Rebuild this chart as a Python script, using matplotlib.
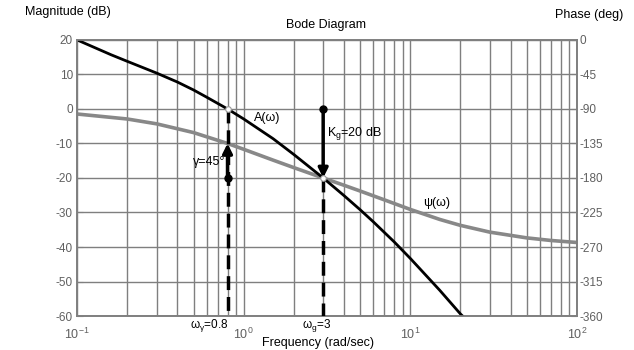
import matplotlib
matplotlib.use("Agg")
import matplotlib.pyplot as plt
from matplotlib.ticker import LogLocator, NullFormatter, FixedLocator

plt.rcParams['font.family'] = ['Liberation Sans', 'DejaVu Sans']
plt.rcParams['mathtext.fontset'] = 'custom'
plt.rcParams['mathtext.rm'] = 'Liberation Sans'
plt.rcParams['mathtext.it'] = 'Liberation Sans'
plt.rcParams['axes.unicode_minus'] = False

# magnitude curve A(w)
w_mag = [0.1, 0.16, 0.2, 0.3, 0.4, 0.5, 0.6, 0.8, 1.0, 1.5, 2, 3, 4, 5, 6, 8, 10, 15, 20, 20.6]
mag_db = [20, 15.7, 13.8, 10.4, 7.8, 5.5, 3.4, 0, -2.9, -8.6, -13.2, -20, -25.1, -29.2, -32.7,
          -38.5, -43.3, -52.5, -59.4, -60]

# phase curve psi(w)
w_ph = [0.1, 0.2, 0.3, 0.5, 0.8, 1, 1.5, 2, 3, 4, 5, 7, 10, 15, 20, 30, 50, 70, 100]
phase_deg = [-96.6, -103.1, -109.4, -120.8, -135, -142.6, -156.7, -166.5, -180, -189.5, -197,
             -208.6, -221, -234, -241.8, -250.6, -258.1, -261.5, -264.1]

mag_ticks = [-60, -50, -40, -30, -20, -10, 0, 10, 20]
phase_ticks = [-360, -315, -270, -225, -180, -135, -90, -45, 0]
decades = [0.1, 1, 10, 100]
decade_labels = ['$10^{-1}$', '$10^{0}$', '$10^{1}$', '$10^{2}$']

w_gamma = 0.8   # phase crossover / margin
w_g = 3
gamma_db = [-20, -10]   # arrow for gamma=45 deg
kg_db = [0, -20]        # arrow for Kg=20 dB

gridc = '#7f7f7f'
tickc = '#606060'

fig = plt.figure(figsize=(6.34, 3.5), dpi=100)
ax2 = fig.add_axes([0.1215, 0.097, 0.7885, 0.789])
ax = ax2.twinx()
ax.set_zorder(ax2.get_zorder() + 1)
ax.patch.set_visible(False)

# phase axis (right) and the grid underneath
ax2.set_xscale('log')
ax2.set_xlim(0.1, 100)
ax2.set_ylim(-360, 0)
ax2.yaxis.tick_right()
ax2.yaxis.set_major_locator(FixedLocator(phase_ticks))
ax2.set_xticks(decades)
ax2.set_xticklabels(decade_labels)
ax2.xaxis.set_minor_locator(LogLocator(base=10, subs=range(2, 10)))
ax2.xaxis.set_minor_formatter(NullFormatter())
ax2.grid(True, which='both', axis='x', color=gridc, lw=1)
ax2.grid(True, which='major', axis='y', color=gridc, lw=1)
ax2.plot(w_ph, phase_deg, color='#888888', lw=2.6, solid_capstyle='butt')
ax2.tick_params(axis='y', which='both', right=True, left=False, labelright=True, labelleft=False,
                labelsize=8.5, labelcolor=tickc, color=gridc, length=4, pad=2, direction='in')
ax2.tick_params(axis='x', which='both', length=0, labelsize=9, labelcolor=tickc, pad=8)

# magnitude axis (left) on top
ax.set_ylim(-60, 20)
ax.yaxis.tick_left()
ax.set_yticks(mag_ticks)
ax.tick_params(axis='y', right=False, left=True, labelleft=True, labelright=False,
               labelsize=8.5, labelcolor=tickc, color=gridc, length=4, pad=3, direction='in')
for a in (ax, ax2):
    for s in a.spines.values():
        s.set_color(gridc)
        s.set_linewidth(1.2)

ax.plot(w_mag, mag_db, color='black', lw=2.0)

# dashed drop lines
ax.plot([w_gamma, w_gamma], [0, -60], color='black', lw=2.5, dashes=(4, 2), zorder=4)
ax.plot([w_g, w_g], [kg_db[1], -60], color='black', lw=2.5, dashes=(4, 2), zorder=4)

# gamma arrow
ax.annotate('', xy=(w_gamma, gamma_db[1]), xytext=(w_gamma, gamma_db[0]),
            arrowprops=dict(arrowstyle='-|>', lw=2.5, color='black', mutation_scale=14,
                            shrinkA=0, shrinkB=0), zorder=5)
ax.plot([w_gamma], [gamma_db[0]], 'o', color='black', ms=5, zorder=6)
# Kg arrow
ax.annotate('', xy=(w_g, kg_db[1]), xytext=(w_g, kg_db[0]),
            arrowprops=dict(arrowstyle='-|>', lw=2.5, color='black', mutation_scale=14,
                            shrinkA=0, shrinkB=0), zorder=5)
ax.plot([w_g], [kg_db[0]], 'o', color='black', ms=5, zorder=6)

# crossing markers
ax.plot([w_gamma, w_g], [0, -20], 'o', mfc='white', mec='#999999', ms=4, mew=0.8, zorder=7)

ax.text(0.78, -15.5, 'γ=45°', fontsize=9, ha='right', va='center')
ax.text(3.15, -7.2, 'K$_{g}$=20 dB', fontsize=9, ha='left', va='center')
ax.text(1.15, -2.6, 'A(ω)', fontsize=9, ha='left', va='center')
ax.text(14.3, -27.2, 'ψ(ω)', fontsize=9, ha='center', va='center')

ax.annotate('ω$_{γ}$=0.8', xy=(w_gamma, 0), xycoords=('data', 'axes fraction'),
            xytext=(1, -7), textcoords='offset points', ha='right', va='center', fontsize=8.5)
ax.annotate('ω$_{g}$=3', xy=(w_g, 0), xycoords=('data', 'axes fraction'),
            xytext=(-5, -7), textcoords='offset points', ha='center', va='center', fontsize=8.5)

fig.text(25 / 634, 1 - 12 / 350, 'Magnitude (dB)', fontsize=9, ha='left', va='center')
fig.text(623 / 634, 1 - 15 / 350, 'Phase (deg)', fontsize=9, ha='right', va='center')
fig.text(326 / 634, 1 - 25 / 350, 'Bode Diagram', fontsize=9, ha='center', va='center')
fig.text(318 / 634, 1 - 343 / 350, 'Frequency (rad/sec)', fontsize=9, ha='center', va='center')

fig.savefig('out.png', dpi=100)
